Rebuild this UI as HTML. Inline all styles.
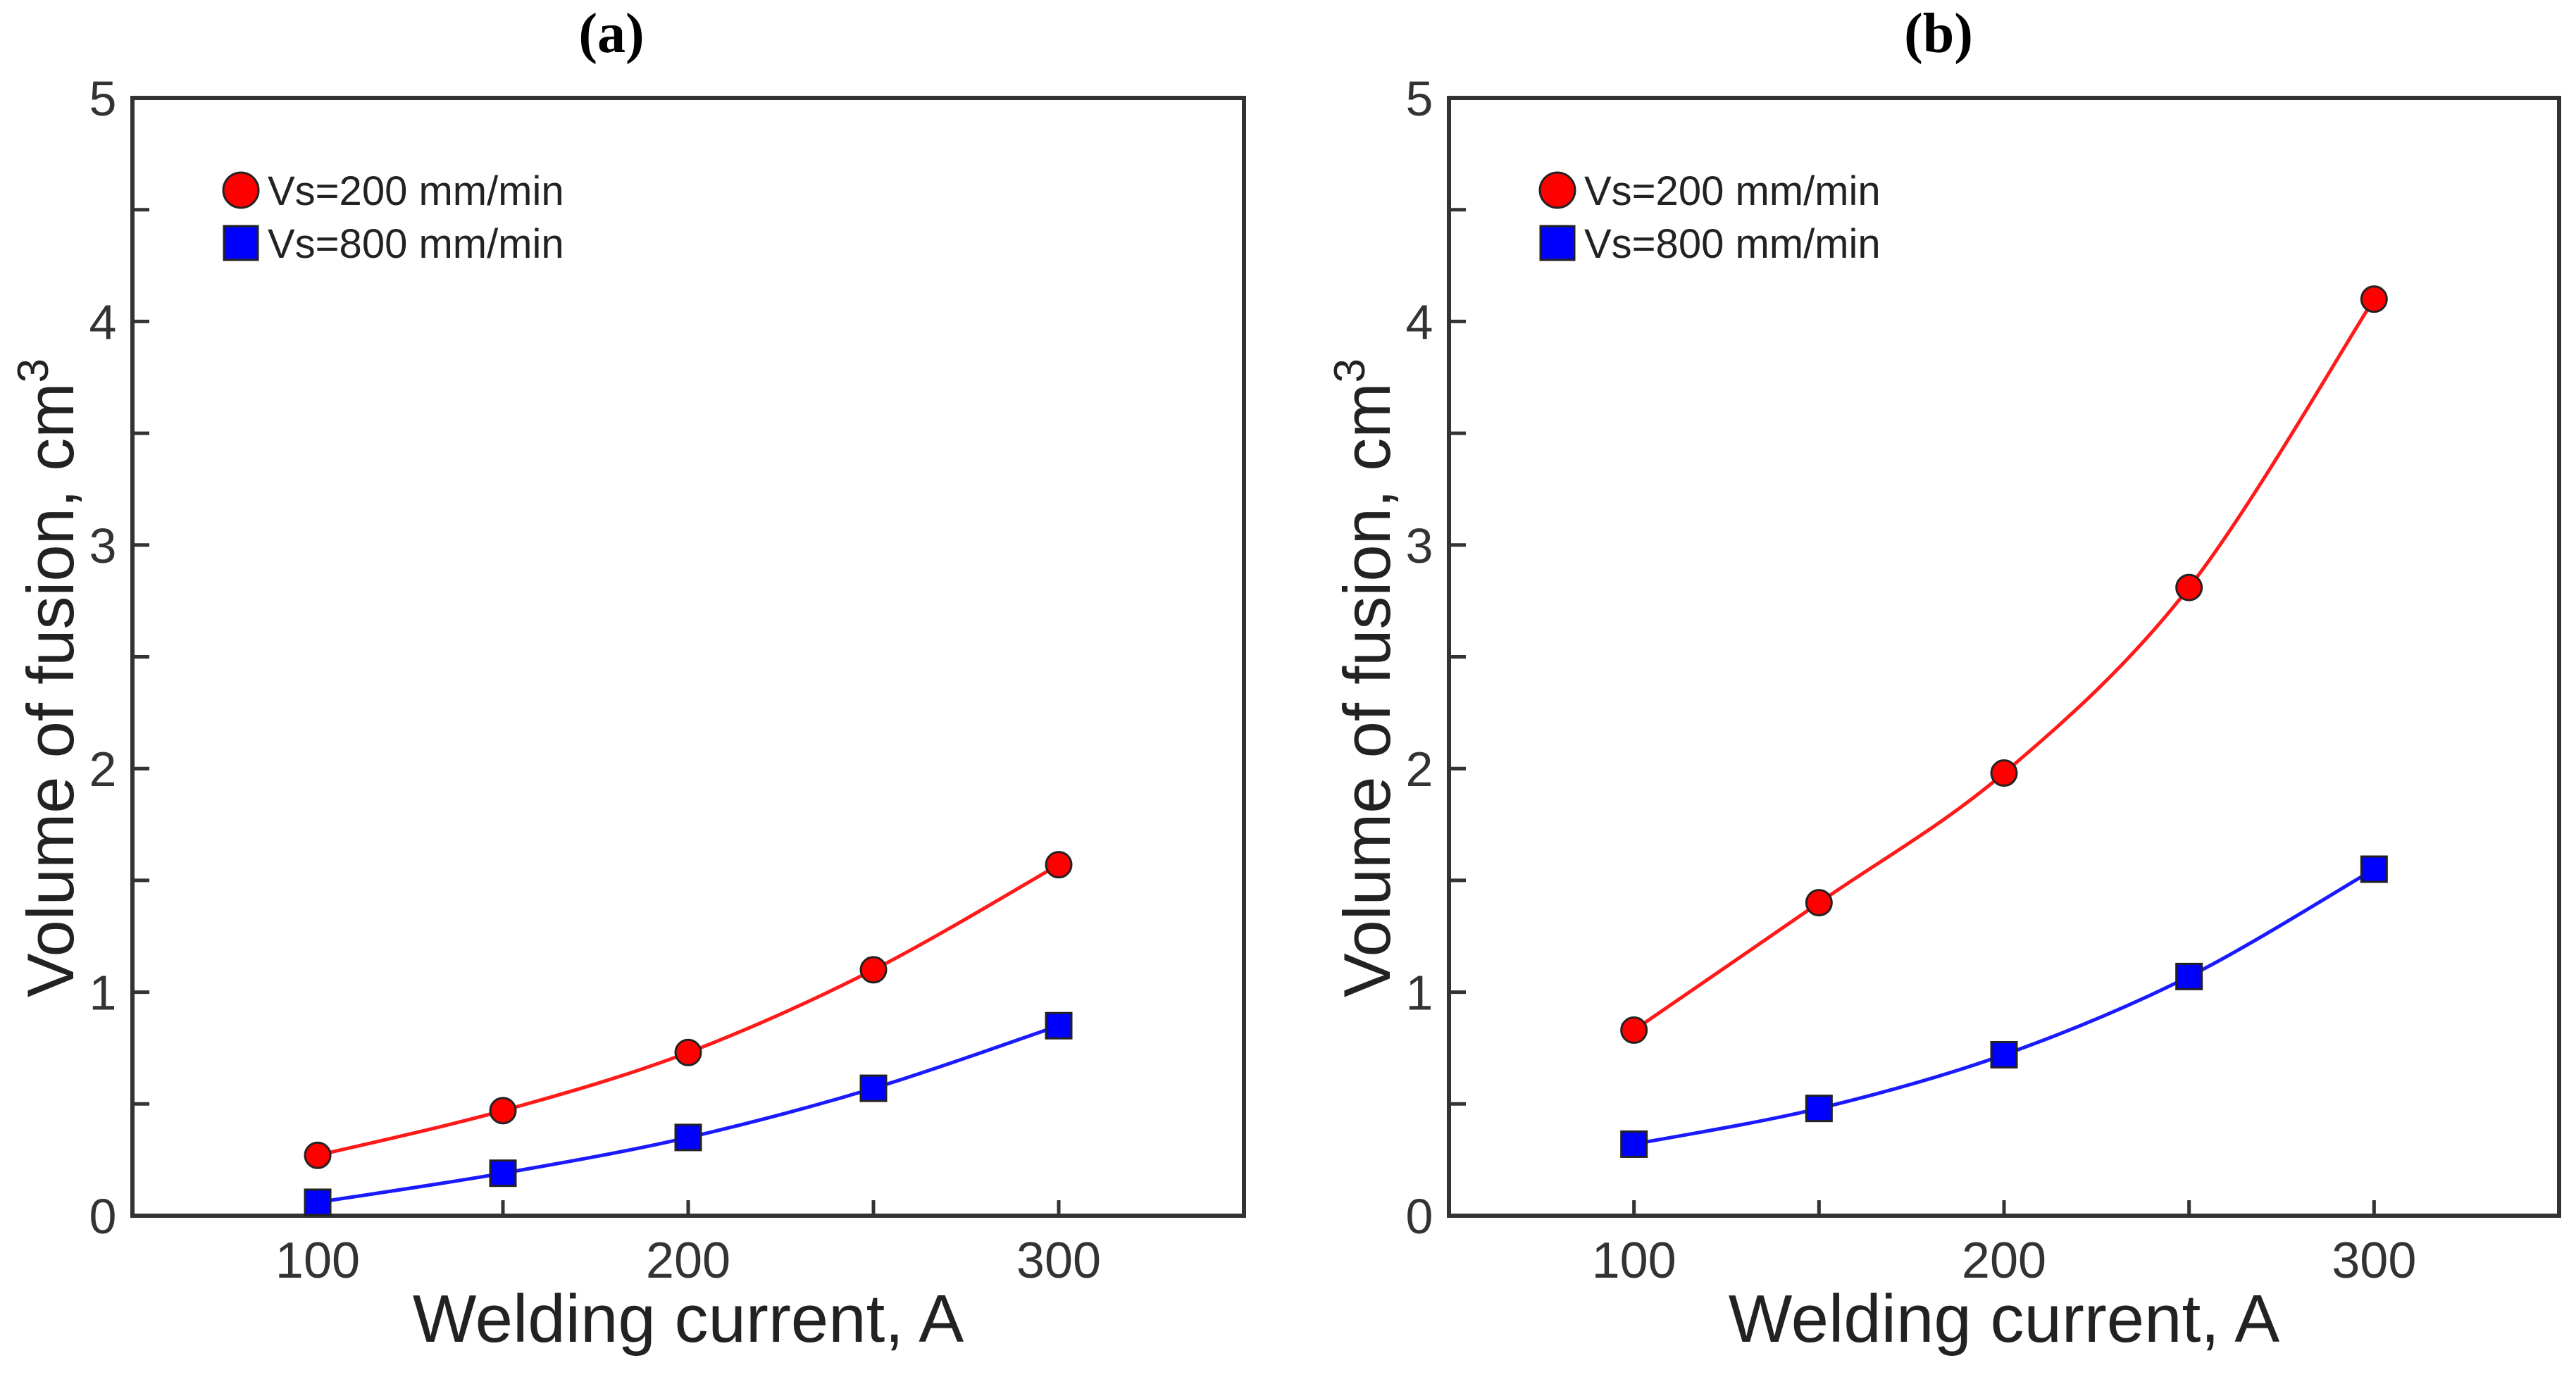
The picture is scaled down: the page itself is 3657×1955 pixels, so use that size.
<!DOCTYPE html>
<html><head><meta charset="utf-8"><style>
html,body{margin:0;padding:0;background:#fff;}
svg{display:block;}
</style></head><body>
<svg id="fig" width="3657" height="1955" viewBox="0 0 3657 1955" xmlns="http://www.w3.org/2000/svg"></svg>
<script>
const currents = [100, 150, 200, 250, 300];
const aRed = [0.27, 0.47, 0.73, 1.10, 1.57];
const aBlue = [0.06, 0.19, 0.35, 0.57, 0.85];
const bRed = [0.83, 1.40, 1.98, 2.81, 4.10];
const bBlue = [0.32, 0.48, 0.72, 1.07, 1.55];
const yTickLabels = [0, 1, 2, 3, 4, 5];
const xTickLabels = [100, 200, 300];
const xMinorTicks = [150, 250];
const seriesNames = ["Vs=200 mm/min", "Vs=800 mm/min"];

const NS = "http://www.w3.org/2000/svg";
const svg = document.getElementById("fig");
function mk(tag, attrs, parent) {
  const e = document.createElementNS(NS, tag);
  for (const k in attrs) e.setAttribute(k, attrs[k]);
  (parent || svg).appendChild(e);
  return e;
}
function smoothPath(pts) {
  let d = "M" + pts[0][0] + "," + pts[0][1];
  for (let i = 0; i < pts.length - 1; i++) {
    const p0 = pts[i - 1] || pts[i], p1 = pts[i], p2 = pts[i + 1], p3 = pts[i + 2] || p2;
    const c1x = p1[0] + (p2[0] - p0[0]) / 6, c1y = p1[1] + (p2[1] - p0[1]) / 6;
    const c2x = p2[0] - (p3[0] - p1[0]) / 6, c2y = p2[1] - (p3[1] - p1[1]) / 6;
    d += " C" + c1x + "," + c1y + " " + c2x + "," + c2y + " " + p2[0] + "," + p2[1];
  }
  return d;
}
function panel(id, left, right, title, titleX, red, blue) {
  const top = 139, bottom = 1726;
  const g = mk("g", {});
  
  
  const xs = v => left + (v - 50) / 300 * (right - left);
  const ys = v => bottom - v / 5 * (bottom - top);
  const t = mk("text", {x: titleX, y: 74, "font-family": "Liberation Serif, serif", "font-size": 80, "font-weight": "bold", "text-anchor": "middle", fill: "#000"}, g);
  t.textContent = title;
  
  
  const frame = mk("rect", {x: left, y: top, width: right - left, height: bottom - top, fill: "none", stroke: "#333", "stroke-width": 6}, g);
  
  
  for (let v = 0; v <= 5; v += 0.5) {
    const tk = mk("line", {x1: left, x2: left + 24, y1: ys(v), y2: ys(v), stroke: "#333", "stroke-width": 5}, g);
    
    
  }
  yTickLabels.forEach(v => {
    const tl = mk("text", {x: left - 42, y: ys(v) + 25, "font-family": "Liberation Sans, sans-serif", "font-size": 70, "text-anchor": "middle", fill: "#333"}, g);
    tl.textContent = v;
    
    
  });
  xTickLabels.concat(xMinorTicks).forEach(v => {
    const tk = mk("line", {x1: xs(v), x2: xs(v), y1: bottom, y2: bottom - 22, stroke: "#333", "stroke-width": 5}, g);
    
    
  });
  xTickLabels.forEach(v => {
    const tl = mk("text", {x: xs(v), y: bottom + 88, "font-family": "Liberation Sans, sans-serif", "font-size": 72, "text-anchor": "middle", fill: "#333"}, g);
    tl.textContent = v;
    
    
  });
  const xl = mk("text", {x: (left + right) / 2, y: 1905, "font-family": "Liberation Sans, sans-serif", "font-size": 96, "text-anchor": "middle", fill: "#222"}, g);
  xl.textContent = "Welding current, A";
  
  
  const yx = left - 84, yy = (top + bottom) / 2 + 30;
  const yl = mk("text", {x: yx, y: yy, transform: "rotate(-90 " + yx + " " + yy + ")", "font-family": "Liberation Sans, sans-serif", "font-size": 94, "text-anchor": "middle", fill: "#222"}, g);
  yl.innerHTML = 'Volume of fusion, cm<tspan dy="-36" font-size="62">3</tspan>';
  
  
  const rp = currents.map((c, i) => [xs(c), ys(red[i])]);
  const bp = currents.map((c, i) => [xs(c), ys(blue[i])]);
  const rl = mk("path", {d: smoothPath(rp), fill: "none", stroke: "#ff1a1a", "stroke-width": 5}, g);
  
  
  const bl = mk("path", {d: smoothPath(bp), fill: "none", stroke: "#1a1aff", "stroke-width": 5}, g);
  
  
  rp.forEach(p => {
    const c = mk("circle", {cx: p[0], cy: p[1], r: 18, fill: "#ff0000", stroke: "#222", "stroke-width": 3}, g);
    
    
  });
  bp.forEach(p => {
    const s = mk("rect", {x: p[0] - 18, y: p[1] - 18, width: 36, height: 36, fill: "#0000ff", stroke: "#222", "stroke-width": 3}, g);
    
    
  });
  const lx = left + 154;
  const lc = mk("circle", {cx: lx, cy: 270, r: 25, fill: "#ff0000", stroke: "#222", "stroke-width": 3}, g);
  
  
  const ls = mk("rect", {x: lx - 24, y: 321, width: 48, height: 48, fill: "#0000ff", stroke: "#222", "stroke-width": 3}, g);
  
  
  [270, 345].forEach((yv, i) => {
    const lt = mk("text", {x: lx + 38, y: yv + 21, "font-family": "Liberation Sans, sans-serif", "font-size": 58, fill: "#222"}, g);
    lt.textContent = seriesNames[i];
    
    
  });
}
panel("a", 188, 1766, "(a)", 868, aRed, aBlue);
panel("b", 2057, 3633, "(b)", 2752, bRed, bBlue);
</script>
</body></html>
